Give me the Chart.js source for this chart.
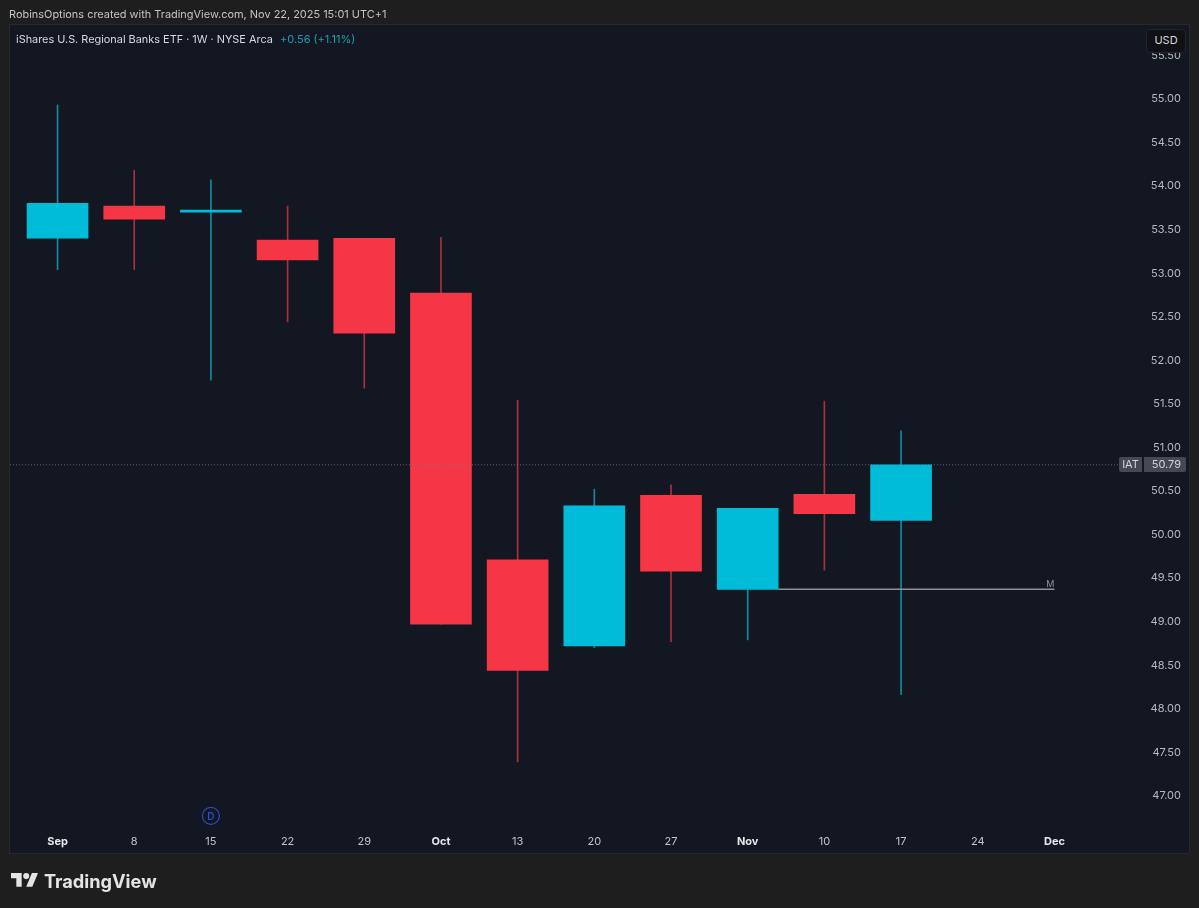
<!DOCTYPE html>
<html lang="en">
<head>
<meta charset="UTF-8">
<title>IAT weekly</title>
<script src="https://cdn.jsdelivr.net/npm/chart.js@4"></script>
<style>
  * { box-sizing: border-box; margin: 0; padding: 0; }
  html, body { width: 1199px; height: 908px; overflow: hidden; background: #1e1e1e; font-family: Inter, sans-serif; }
  #wrap { position: absolute; left: 0; top: 0; width: 1199px; height: 908px; }
  .txt { position: absolute; white-space: nowrap; line-height: 16px; }
  #credit { left: 9px; top: 6px; font-size: 10.95px; color: #c2c3c6; }
  #name { left: 16px; top: 31px; font-size: 10.9px; color: #d6d8de; }
  #change { left: 280px; top: 31px; font-size: 11px; color: #1c9fb0; }
  #usd { position: absolute; left: 1146px; top: 29px; width: 40px; height: 24px; background: #101114; border: 1px solid #23252b;
         border-radius: 4px; color: #d6d8de; font-size: 11px; line-height: 21px; text-align: center; }
  #logo { position: absolute; left: 11px; top: 870px; }
  #brand { left: 44px; top: 868px; font-size: 18.2px; line-height: 26px; font-weight: 700; color: #e4e4e4; }
</style>
</head>
<body>
<div id="wrap"><canvas id="chart" width="1199" height="908"></canvas></div>
<div class="txt" id="credit">RobinsOptions created with TradingView.com, Nov 22, 2025 15:01 UTC+1</div>
<div class="txt" id="name">iShares U.S. Regional Banks ETF · 1W · NYSE Arca</div>
<div class="txt" id="change">+0.56 (+1.11%)</div>
<div id="usd">USD</div>
<svg id="logo" width="27.4" height="21.3" viewBox="0 0 36 28"><path fill="#e4e4e4" d="M14 22H7V11H0V4h14v18zM28 22h-8l7.5-18h8L28 22z"/><circle fill="#e4e4e4" cx="20" cy="8" r="4"/></svg>
<div class="txt" id="brand">TradingView</div>
<script>
// ---------- Data ----------
const xLabels = ['Sep', '8', '15', '22', '29', 'Oct', '13', '20', '27', 'Nov', '10', '17', '24', 'Dec'];
const monthLabels = ['Sep', 'Oct', 'Nov', 'Dec'];
const opens  = [53.39, 53.76, 53.69, 53.37, 53.39, 52.76, 49.70, 48.71, 50.44, 49.36, 50.45, 50.15];
const closes = [53.79, 53.61, 53.71, 53.14, 52.30, 48.96, 48.43, 50.32, 49.57, 50.29, 50.23, 50.79];
const highs  = [54.92, 54.17, 54.06, 53.76, 53.39, 53.40, 51.53, 50.51, 50.56, 50.29, 51.52, 51.18];
const lows   = [53.03, 53.03, 51.76, 52.43, 51.67, 48.96, 47.38, 48.69, 48.76, 48.78, 49.58, 48.15];
const priceTicks = [47, 47.5, 48, 48.5, 49, 49.5, 50, 50.5, 51, 51.5, 52, 52.5, 53, 53.5, 54, 54.5, 55, 55.5];
const lastPrice = 50.79;
const monthlyLevel = 49.36;
const dividendWeek = 2;
const dividendY = 46.76;

// ---------- Colours ----------
const UP = '#00bcd9';
const DOWN = '#f43647';
const UP_WICK = '#14899f';
const DOWN_WICK = '#a9303f';

const isUp = opens.map((o, i) => closes[i] >= o);
const isMonth = ctx => !!ctx.tick && monthLabels.includes(xLabels[ctx.tick.value]);

const chromePlugin = {
  id: 'chrome',
  beforeDraw(chart) {
    const { ctx } = chart;
    // pane covers the axes too, TradingView style
    ctx.save();
    ctx.fillStyle = '#131722';
    ctx.fillRect(10, 25, 1179, 828);
    ctx.strokeStyle = '#26282e';
    ctx.strokeRect(9.5, 24.5, 1180, 829);
    ctx.restore();
  },
  afterDraw(chart) {
    const { ctx, scales: { x, y } } = chart;
    const py = Math.round(y.getPixelForValue(lastPrice));
    ctx.save();
    ctx.font = '11px Inter, sans-serif';
    ctx.textBaseline = 'middle';

    // last price tag
    ctx.fillStyle = '#464953';
    ctx.beginPath();
    ctx.roundRect(1119, py - 8, 23, 15, [2, 0, 0, 2]);
    ctx.roundRect(1144, py - 8, 42, 15, [0, 2, 2, 0]);
    ctx.fill();
    ctx.fillStyle = '#d1d4dc';
    ctx.textAlign = 'center';
    ctx.fillText('IAT', 1130.5, py);
    ctx.textAlign = 'right';
    ctx.fillText(lastPrice.toFixed(2), 1181, py);

    // level label
    ctx.font = '9px Inter, sans-serif';
    ctx.fillStyle = '#8f929a';
    ctx.textAlign = 'right';
    ctx.fillText('M', x.getPixelForValue(13), y.getPixelForValue(monthlyLevel) - 5);

    // dividend marker letter
    ctx.font = '600 10px Inter, sans-serif';
    ctx.fillStyle = '#2b4bc4';
    ctx.textAlign = 'center';
    ctx.fillText('D', x.getPixelForValue(dividendWeek), y.getPixelForValue(dividendY) + 1);
    ctx.restore();
  },
};

const weeks = opens.map((_, i) => i);

new Chart(document.getElementById('chart'), {
  type: 'bar',
  data: {
    datasets: [
      {
        label: 'wick',
        order: 3,
        grouped: false,
        barThickness: 1,
        backgroundColor: isUp.map(u => (u ? UP_WICK : DOWN_WICK)),
        data: weeks.map(i => ({ x: i, y: [lows[i], highs[i]] })),
      },
      {
        label: 'body',
        order: 2,
        grouped: false,
        barThickness: 61,
        minBarLength: 2,
        backgroundColor: isUp.map(u => (u ? UP : DOWN)),
        data: weeks.map(i => ({ x: i, y: [opens[i], closes[i]] })),
      },
      {
        type: 'line',
        label: 'last',
        order: 1,
        borderColor: 'rgba(120,123,134,0.75)',
        borderWidth: 1,
        borderDash: [1, 2],
        pointRadius: 0,
        data: [{ x: -0.62, y: lastPrice }, { x: 13.83, y: lastPrice }],
      },
      {
        type: 'line',
        label: 'M',
        order: 1,
        borderColor: '#8f929a',
        borderWidth: 1.5,
        pointRadius: 0,
        data: [{ x: 9.4, y: monthlyLevel }, { x: 13, y: monthlyLevel }],
      },
      {
        type: 'line',
        label: 'D',
        order: 1,
        showLine: false,
        pointRadius: 8.5,
        pointBorderWidth: 1.2,
        pointBackgroundColor: 'rgba(0,0,0,0)',
        pointBorderColor: '#2b4bc4',
        data: [{ x: dividendWeek, y: dividendY }],
      },
    ],
  },
  options: {
    responsive: false,
    animation: false,
    events: [],
    layout: { padding: { left: 10, right: 10, top: 26, bottom: 55 } },
    plugins: { legend: { display: false }, tooltip: { enabled: false } },
    scales: {
      x: {
        type: 'linear',
        offset: false,
        min: -0.62,
        max: 14.755,
        grid: { display: false, drawTicks: false },
        border: { display: false },
        afterBuildTicks: axis => { axis.ticks = xLabels.map((_, i) => ({ value: i })); },
        afterFit: axis => { axis.height = 23; },
        ticks: {
          autoSkip: false,
          maxRotation: 0,
          padding: 5,
          color: ctx => (isMonth(ctx) ? '#e6e7ea' : '#c0c3cb'),
          font: ctx => ({ family: 'Inter, sans-serif', size: 11, weight: isMonth(ctx) ? '700' : '400' }),
          callback: v => xLabels[v],
        },
      },
      y: {
        position: 'right',
        min: 46.598,
        max: 55.826,
        grid: { display: false, drawTicks: false },
        border: { display: false },
        afterBuildTicks: axis => { axis.ticks = priceTicks.map(v => ({ value: v })); },
        afterFit: axis => { axis.width = 0; },
        ticks: {
          mirror: true,
          padding: -8,
          labelOffset: 1,
          color: '#b6b9c1',
          font: { family: 'Inter, sans-serif', size: 11 },
          callback: v => v.toFixed(2),
        },
      },
    },
  },
  plugins: [chromePlugin],
});
</script>
</body>
</html>
